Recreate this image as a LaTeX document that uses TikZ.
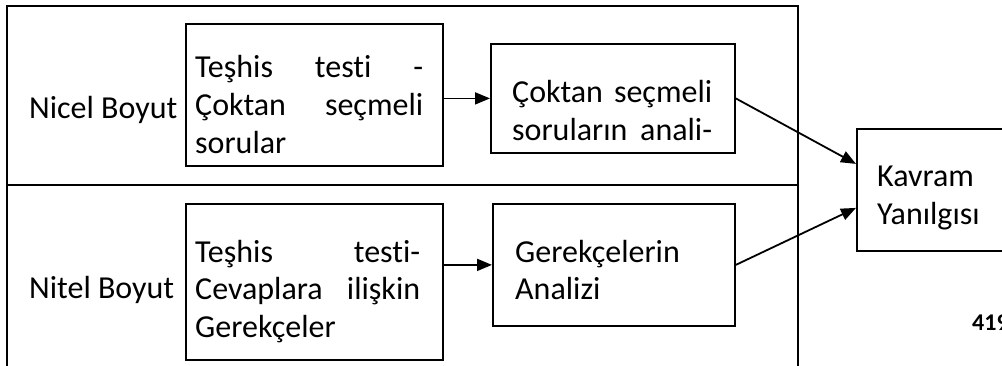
\documentclass[tikz,border=0pt]{standalone}
\usepackage{fontspec}
\setmainfont{Carlito}[Ligatures=NoCommon]
\usetikzlibrary{arrows.meta}

\tikzset{
  frameline/.style={line width=1.8pt},
  stagebox/.style={draw, line width=1.8pt, inner sep=0pt, anchor=north west},
  txt/.style={inner sep=0pt, anchor=base west,
    font=\fontsize{32}{38}\selectfont},
  flow/.style={line width=1.8pt, -{Triangle[length=15pt,width=12pt]}},
}

\begin{document}
\begin{tikzpicture}[x=1pt, y=-1pt]
  \useasboundingbox (0,0) rectangle (1002,365);
  \fill[white] (0,0) rectangle (1002,365);

  % outer frame with the two dimension bands
  \draw[frameline] (7,372) -- (7,6) -- (798,6) -- (798,372);
  \draw[frameline] (7,185) -- (798,185);

  % boxes
  \node[stagebox, minimum width=257pt, minimum height=142pt] (b1) at (185,23) {};
  \node[stagebox, minimum width=244pt, minimum height=109pt] (b2) at (490,43) {};
  \node[stagebox, minimum width=257pt, minimum height=156pt] (b3) at (185,203) {};
  \node[stagebox, minimum width=242pt, minimum height=122pt] (b4) at (492,203) {};
  \node[stagebox, minimum width=170pt, minimum height=122pt] (k) at (856,128) {};

  % band labels
  \node[txt] (nicel) at (29,118) {Nicel Boyut};
  \node[txt] (nitel) at (29,298) {Nitel Boyut};

  % box texts
  \node[txt] (t1) at (195,77) {\parbox[t]{228pt}{Teşhis\hfill testi\hfill -\\
    Çoktan\hfill seçmeli\\ sorular}};
  \node[txt] (t2) at (512,102) {\parbox[t]{200pt}{Çoktan\hfill seçmeli\\
    soruların\hfill anali-}};
  \node[txt] (t3) at (195,262) {\parbox[t]{225pt}{\baselineskip=37.5pt
    Teşhis\hfill testi-\\ Cevaplara\hfill ilişkin\\ Gerekçeler}};
  \node[txt] (t4) at (515,262) {\parbox[t]{200pt}{\baselineskip=37pt
    Gerekçelerin\\ Analizi}};
  \node[txt] (tk) at (877,186) {\parbox[t]{120pt}{Kavram\\ Yanılgısı}};

  % page number
  \node[inner sep=0pt, anchor=base west, font=\fontsize{24}{28}\selectfont\bfseries]
    (pg) at (972,330) {419};

  % connectors
  \draw[flow] (b1.east |- b2.west) -- (b2.west);
  \draw[flow] (b3.east |- b4.west) -- (b4.west);
  \draw[flow] (b2.east) -- ([yshift=26pt]k.west);
  \draw[flow] (b4.east) -- ([yshift=-18pt]k.west);
\end{tikzpicture}
\end{document}
